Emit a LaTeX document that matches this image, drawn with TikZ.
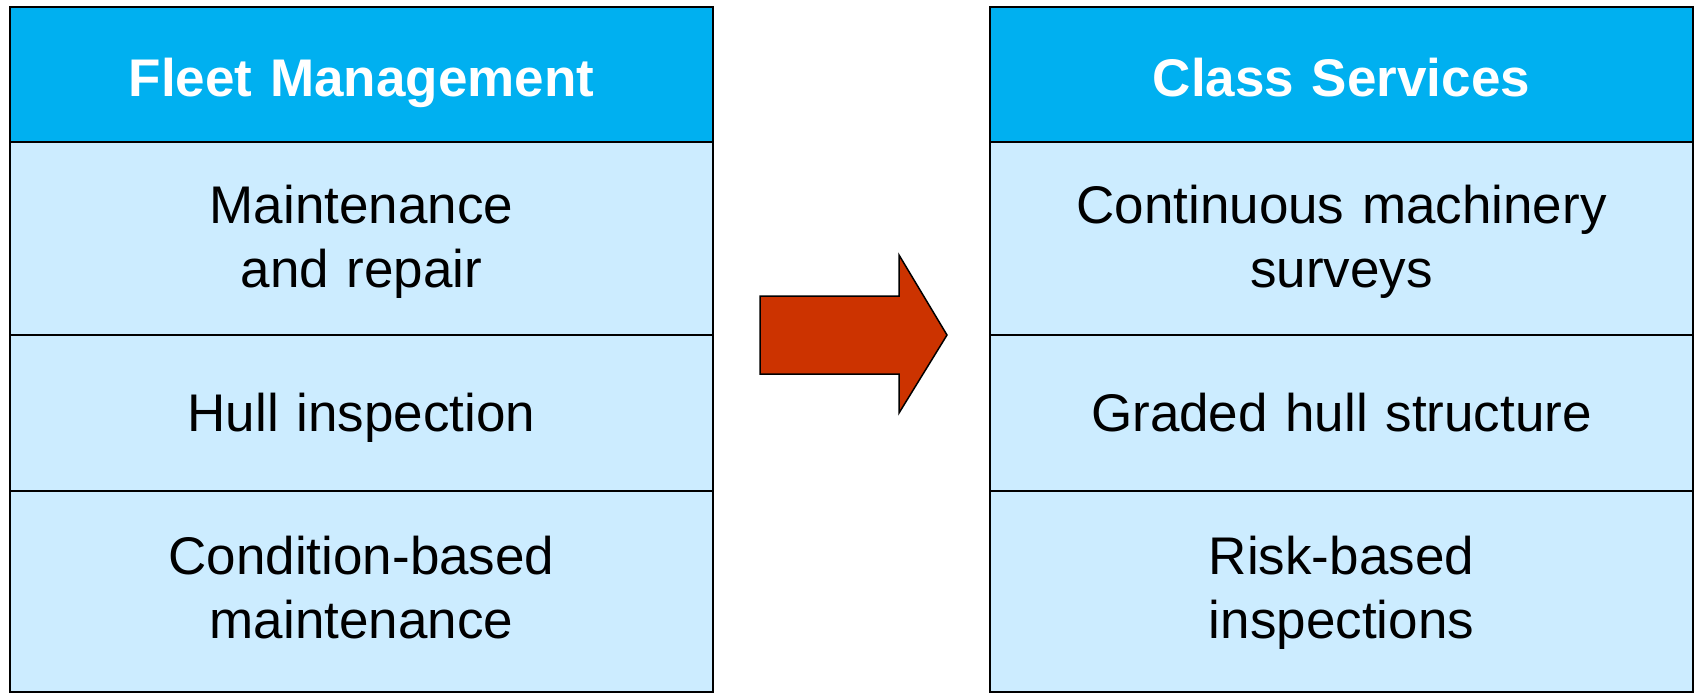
\documentclass[tikz,border=0pt]{standalone}
\usepackage{fontspec}
\setmainfont{Liberation Sans}
\definecolor{headblue}{HTML}{00B0F0}
\definecolor{cellblue}{HTML}{CCECFF}
\definecolor{arrowred}{HTML}{CC3300}
\begin{document}
\begin{tikzpicture}[x=1pt,y=-1pt,
  cell/.style={draw=black, line width=2.5pt, fill=cellblue, minimum width=703pt, inner sep=0pt},
  headcell/.style={cell, fill=headblue},
  celltext/.style={anchor=base, inner sep=0pt, align=center, text width=680pt,
    font=\fontsize{53}{64}\selectfont},
  headtext/.style={celltext, text=white, font=\fontsize{53}{64}\selectfont\bfseries}]
\useasboundingbox (0,0) rectangle (1696,694);
\fill[white] (0,0) rectangle (1696,694);
% left column
\node[headcell, minimum height=135pt] (lh) at (361.5,74.5) {};
\node[cell, minimum height=193pt] (l1) at (361.5,238.5) {};
\node[cell, minimum height=156pt] (l2) at (361.5,413) {};
\node[cell, minimum height=201pt] (l3) at (361.5,591.5) {};
\node[headtext] (lht) at (361.5,96.5) {Fleet Management};
\node[celltext] (l1t) at (361.5,223.3) {Maintenance\\and repair};
\node[celltext] (l2t) at (361.5,431.7) {Hull inspection};
\node[celltext] (l3t) at (361.5,574.5) {Condition-based\\maintenance};
% right column
\node[headcell, minimum height=135pt] (rh) at (1341.5,74.5) {};
\node[cell, minimum height=193pt] (r1) at (1341.5,238.5) {};
\node[cell, minimum height=156pt] (r2) at (1341.5,413) {};
\node[cell, minimum height=201pt] (r3) at (1341.5,591.5) {};
\node[headtext] (rht) at (1341.5,96.5) {Class Services};
\node[celltext] (r1t) at (1341.5,223.3) {Continuous machinery\\surveys};
\node[celltext] (r2t) at (1341.5,431.7) {Graded hull structure};
\node[celltext] (r3t) at (1341.5,574.5) {Risk-based\\inspections};
% arrow
\draw[fill=arrowred, draw=black, line width=1.5pt, line join=miter]
  (760,296) -- (899,296) -- (899,255) -- (947,335) -- (899,413) -- (899,374) -- (760,374) -- cycle;
\end{tikzpicture}
\end{document}
